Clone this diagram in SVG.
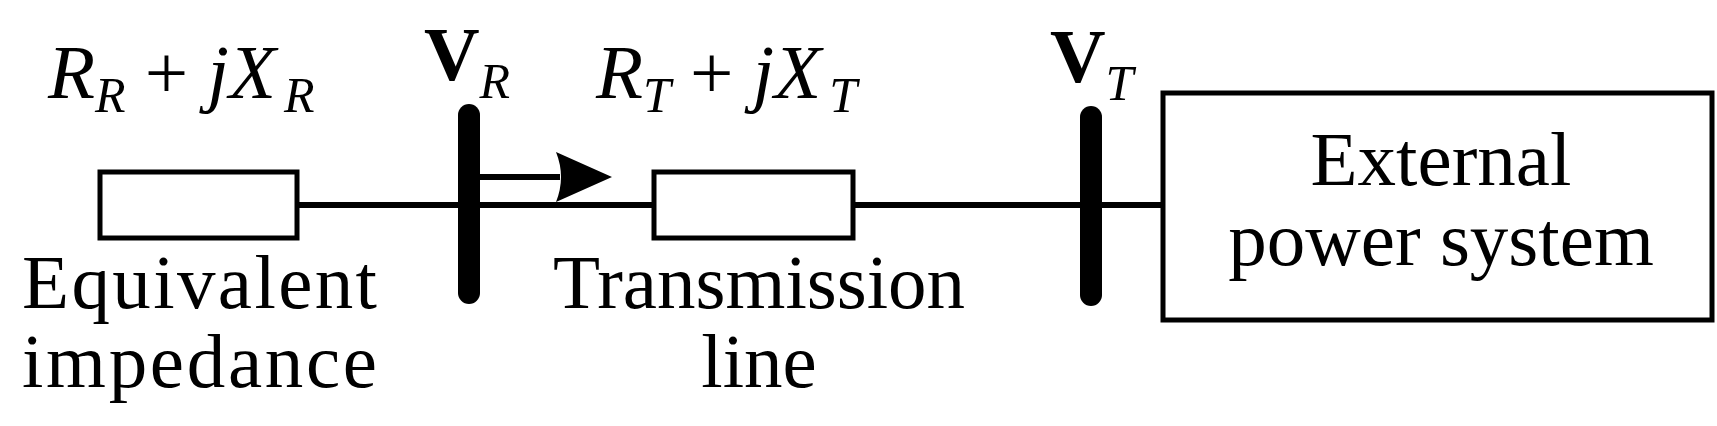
<svg xmlns="http://www.w3.org/2000/svg" width="1717" height="426" viewBox="0 0 1717 426">
<style>
text{font-family:"Liberation Serif","Times New Roman",serif;font-size:77px;fill:#000}
.i{font-style:italic}
.s{font-size:50px;font-style:italic}
.b{font-weight:bold}
.box{fill:#fff;stroke:#000;stroke-width:5}
</style>
<g id="connectors">
<line x1="297" y1="205" x2="1163" y2="205" stroke="#000" stroke-width="6"/>
<line x1="476" y1="177" x2="560" y2="177" stroke="#000" stroke-width="6"/>
<path d="M556,152 L612,177 L556,202 Q566,177 556,152Z"/>
</g>
<g id="zR"><rect class="box" x="100" y="172" width="197" height="66"/>
<text x="48" y="98" class="i" font-size="81">R<tspan class="s" dy="14">R</tspan><tspan dy="-14" font-style="normal"> + </tspan>jX<tspan class="s" dx="8" dy="14">R</tspan></text>
<text x="22" y="308" textLength="355">Equivalent</text><text x="22" y="387" textLength="355">impedance</text></g>
<g id="busR"><line x1="469" y1="115" x2="469" y2="293" stroke="#000" stroke-width="22" stroke-linecap="round"/>
<text x="424" y="80" class="b" font-size="81">V<tspan class="s" font-weight="normal" dy="18">R</tspan></text></g>
<g id="zT"><rect class="box" x="654" y="172" width="199" height="66"/>
<text x="596" y="98" class="i" font-size="81">R<tspan class="s" dy="14">T</tspan><tspan dy="-14" font-style="normal"> + </tspan>jX<tspan class="s" dx="8" dy="14">T</tspan></text>
<text x="759" y="308" text-anchor="middle">Transmission</text><text x="759" y="387" text-anchor="middle">line</text></g>
<g id="busT"><line x1="1091" y1="117" x2="1091" y2="295" stroke="#000" stroke-width="22" stroke-linecap="round"/>
<text x="1050" y="82" class="b" font-size="81">V<tspan class="s" font-weight="normal" dy="18">T</tspan></text></g>
<g id="ext"><rect class="box" x="1163" y="93" width="549" height="227"/>
<text x="1441" y="185" text-anchor="middle">External</text><text x="1441" y="265" text-anchor="middle">power system</text></g>
</svg>
